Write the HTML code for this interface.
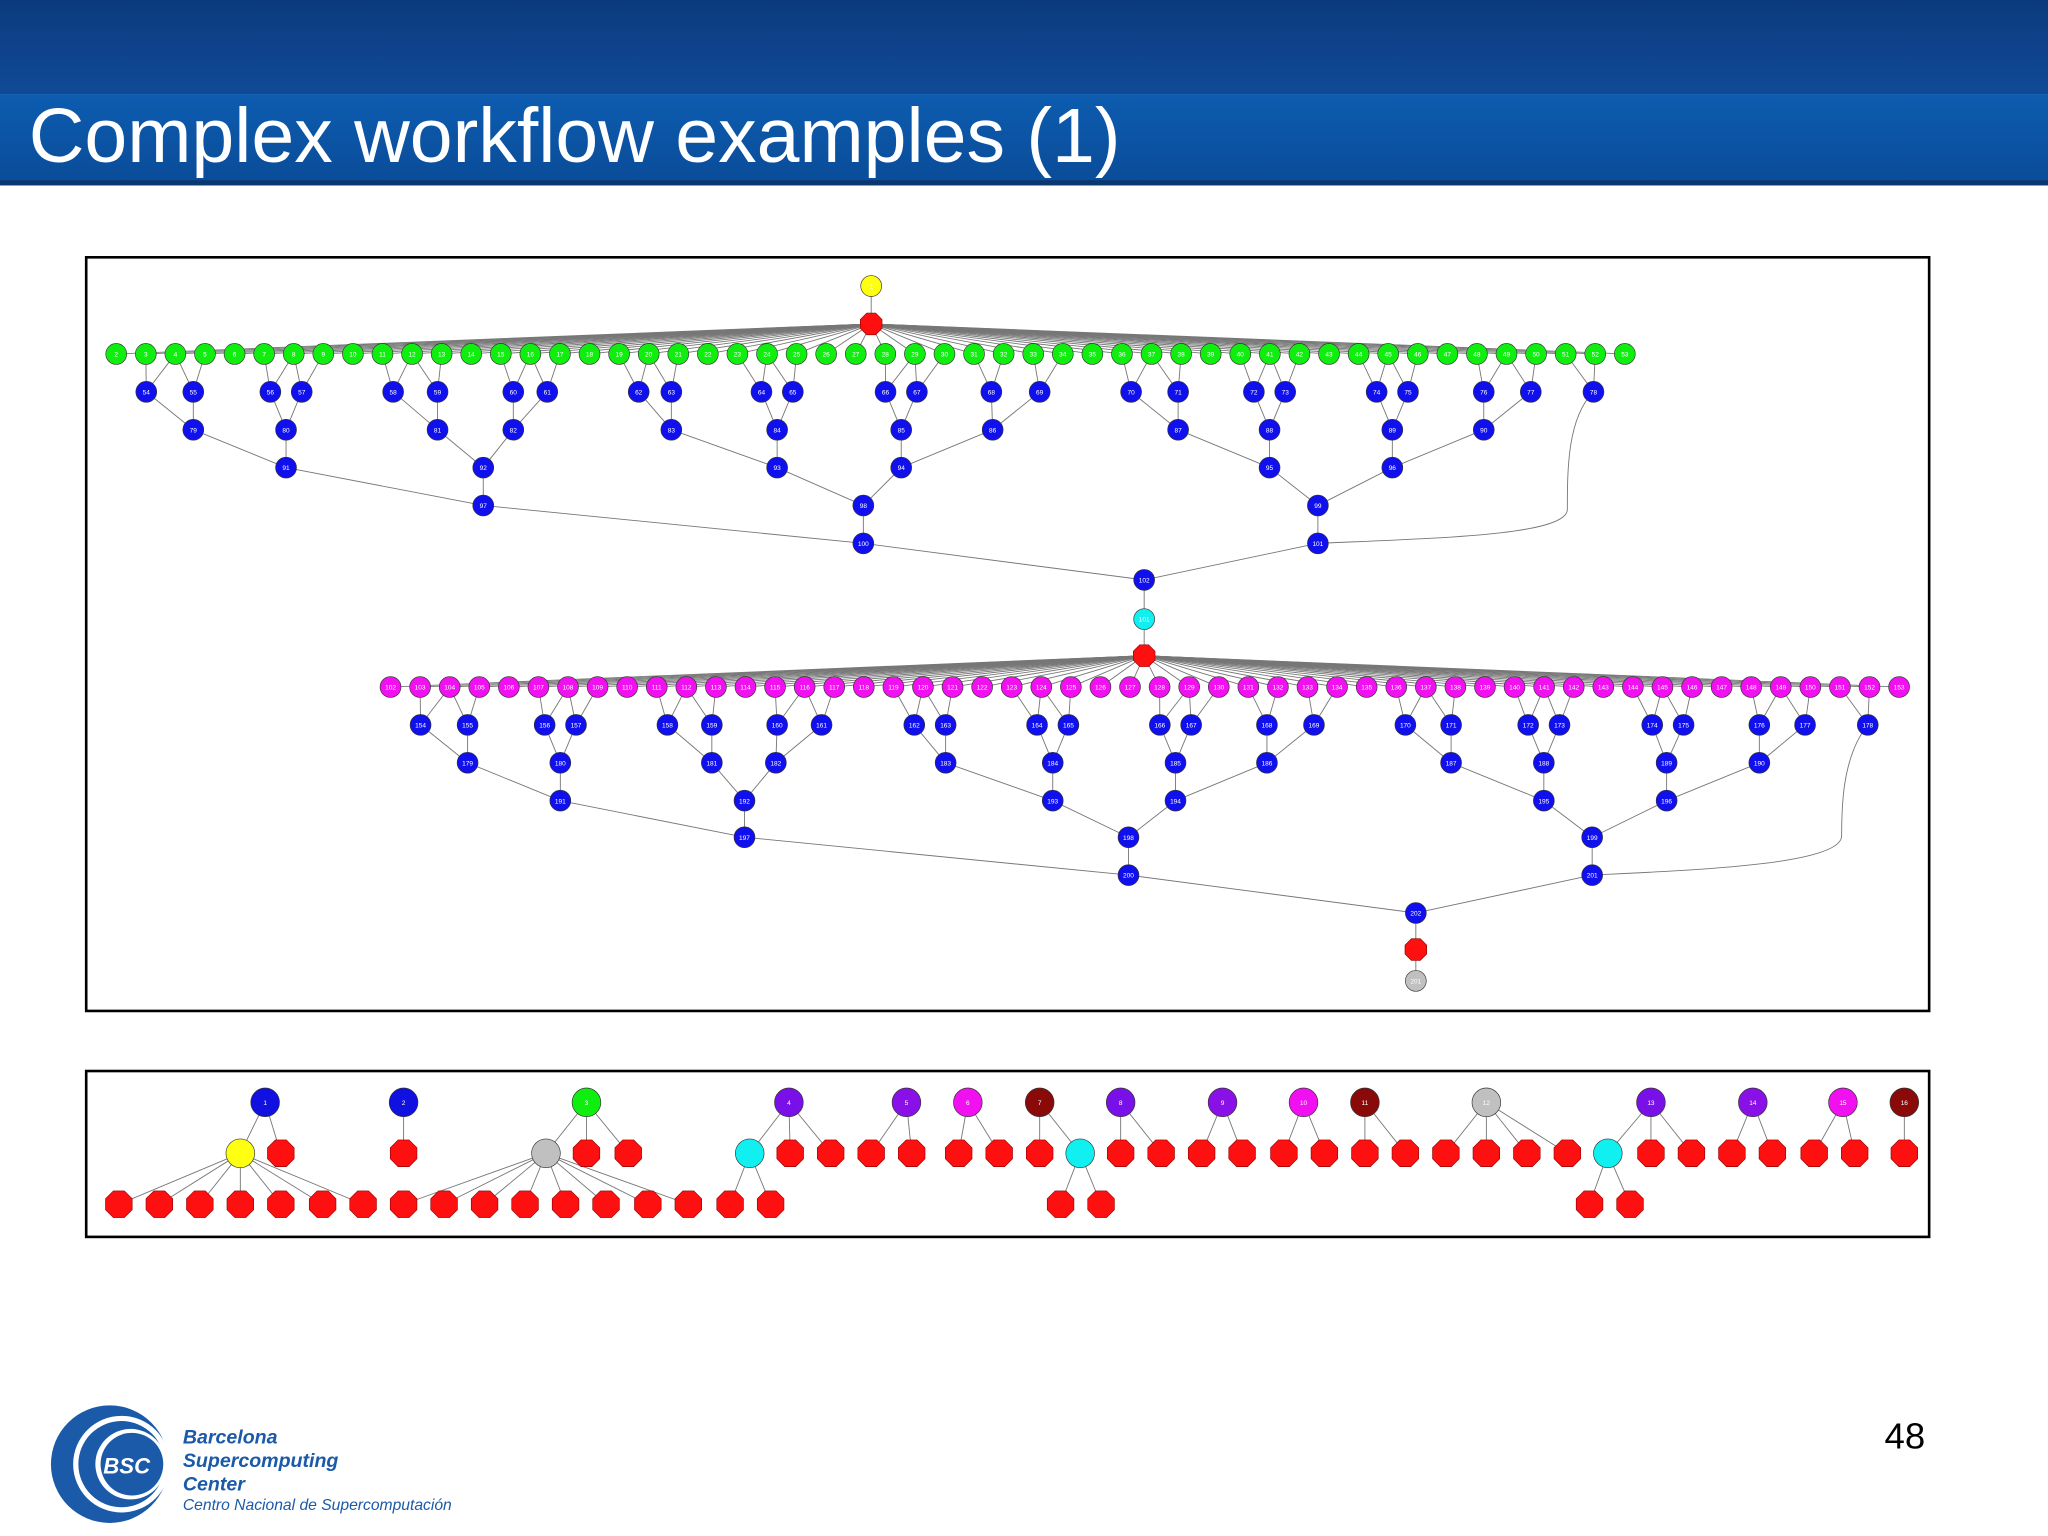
<!DOCTYPE html>
<html><head><meta charset="utf-8">
<style>
html,body{margin:0;padding:0;background:#fff;}
svg{display:block;font-family:"Liberation Sans",sans-serif;}
</style></head>
<body>
<svg id="s" width="2048" height="1536" viewBox="0 0 1568 1176" xmlns="http://www.w3.org/2000/svg">
<defs>
<linearGradient id="hb" x1="0" y1="0" x2="0" y2="1"><stop offset="0" stop-color="#0c3a7e"/><stop offset="1" stop-color="#104a96"/></linearGradient>
<linearGradient id="hb2" x1="0" y1="0" x2="0" y2="1"><stop offset="0" stop-color="#0d5cb0"/><stop offset="1" stop-color="#0a4c98"/></linearGradient>
</defs>
<rect x="0" y="0" width="1568" height="72" fill="url(#hb)"/>
<rect x="0" y="72" width="1568" height="68" fill="url(#hb2)"/>
<rect x="0" y="138" width="1568" height="4" fill="#0a3770"/>
<text x="22" y="124" font-size="59" fill="#fff">Complex workflow examples (1)</text>
<rect x="66" y="197" width="1411" height="577" fill="#fff" stroke="#000" stroke-width="2"/>
<rect x="66" y="820" width="1411" height="127" fill="#fff" stroke="#000" stroke-width="2"/>
<g id="edges"></g><g id="nodes"></g>
<g>
<circle cx="84" cy="1121" r="45" fill="#1a5aa8"/>
<circle cx="93" cy="1121" r="37" fill="#fff"/>
<circle cx="93" cy="1121" r="33" fill="#1a5aa8"/>
<circle cx="100" cy="1121" r="27" fill="#fff"/>
<circle cx="101" cy="1121" r="24" fill="#1a5aa8"/>
<text x="97" y="1128" font-size="17" font-weight="bold" font-style="italic" fill="#fff" text-anchor="middle">BSC</text>
</g>
<text font-size="15" font-weight="bold" font-style="italic" fill="#1a5aa8"><tspan x="140" y="1105">Barcelona</tspan><tspan x="140" y="1123">Supercomputing</tspan><tspan x="140" y="1141">Center</tspan></text>
<text x="140" y="1156" font-size="12" font-style="italic" fill="#1a5aa8">Centro Nacional de Supercomputación</text>
<text x="1474" y="1109" font-size="28" fill="#000" text-anchor="end">48</text>
</svg>
<script>
const NS="http://www.w3.org/2000/svg";
const E=document.getElementById('edges'),N=document.getElementById('nodes');
const GREEN_ROW_X0=89,GREEN_ROW_X1=1244,MAG_ROW_X0=299,MAG_ROW_X1=1454;
const topLevels=[
 [112,148,207,231,301,335,393,419,489,514,583,607,678,702,759,796,866,902,960,984,1054,1078,1136,1172,1220],
 [148,219,335,393,514,595,690,760,902,972,1066,1136],
 [219,370,595,690,972,1066],
 [370,661,1009],
 [661,1009],
 [876]];
const topY=[300,329,358,387,416,444];
const botLevels=[
 [322,358,417,441,511,545,595,629,700,724,794,818,888,912,970,1006,1076,1111,1170,1194,1265,1289,1347,1382,1430],
 [358,429,545,594,724,806,900,970,1111,1182,1276,1347],
 [429,570,806,900,1182,1276],
 [570,864,1219],
 [864,1219],
 [1084]];
const botY=[555,584,613,641,670,699];
const wfTop=[[203,'#1010e0'],[309,'#1010e0'],[449,'#10ee10'],[604,'#7a10e8'],[694,'#8a10e8'],[741,'#f010f0'],[796,'#8a0a0a'],[858,'#7a10e8'],[936,'#8a10e8'],[998,'#f010f0'],[1045,'#8a0a0a'],[1138,'#c0c0c0'],[1264,'#7a10e8'],[1342,'#8a10e8'],[1411,'#f010f0'],[1458,'#8a0a0a']];
const wfMid=[[184,'#ffff10'],[215,'r'],[309,'r'],[418,'#c0c0c0'],[449,'r'],[481,'r'],[574,'#10f0f0'],[605,'r'],[636,'r'],[667,'r'],[698,'r'],[734,'r'],[765,'r'],[796,'r'],[827,'#10f0f0'],[858,'r'],[889,'r'],[920,'r'],[951,'r'],[983,'r'],[1014,'r'],[1045,'r'],[1076,'r'],[1107,'r'],[1138,'r'],[1169,'r'],[1200,'r'],[1231,'#10f0f0'],[1264,'r'],[1295,'r'],[1326,'r'],[1357,'r'],[1389,'r'],[1420,'r'],[1458,'r']];
const wfLow=[[91,184],[122,184],[153,184],[184,184],[215,184],[247,184],[278,184],[309,418],[340,418],[371,418],[402,418],[433,418],[464,418],[496,418],[527,418],[559,574],[590,574],[812,827],[843,827],[1217,1231],[1248,1231]];

function line(x1,y1,x2,y2){const l=document.createElementNS(NS,'line');
l.setAttribute('x1',x1);l.setAttribute('y1',y1);l.setAttribute('x2',x2);l.setAttribute('y2',y2);
l.setAttribute('stroke','#777');l.setAttribute('stroke-width','0.7');


E.appendChild(l);}
function circ(x,y,r,fill,label){const c=document.createElementNS(NS,'circle');
c.setAttribute('cx',x);c.setAttribute('cy',y);c.setAttribute('r',r);c.setAttribute('fill',fill);c.setAttribute('stroke','#333');c.setAttribute('stroke-width','0.5');


N.appendChild(c);
if(label!==undefined){const t=document.createElementNS(NS,'text');t.setAttribute('x',x);t.setAttribute('y',y+2);t.setAttribute('font-size','5');t.setAttribute('text-anchor','middle');t.setAttribute('fill','#fff');t.textContent=label;


N.appendChild(t);}}
function oct(x,y,r){const p=document.createElementNS(NS,'polygon');let pts=[];
for(let i=0;i<8;i++){const a=Math.PI/8+i*Math.PI/4;pts.push((x+r*Math.cos(a)).toFixed(1)+','+(y+r*Math.sin(a)).toFixed(1));}
p.setAttribute('points',pts.join(' '));p.setAttribute('fill','#ff1010');p.setAttribute('stroke','#900');p.setAttribute('stroke-width','0.5');


N.appendChild(p);}
function nearest(arr,x,k){return arr.slice().sort((a,b)=>Math.abs(a-x)-Math.abs(b-x)).slice(0,k);}

function tree(rowX0,rowX1,rowY,octX,octY,levels,ys,color,startLabel){
 const row=[];for(let i=0;i<52;i++)row.push(rowX0+(rowX1-rowX0)*i/51);
 row.forEach(x=>line(x,rowY,octX,octY));
 let prev=row,prevY=rowY;
 levels.forEach((lv,li)=>{const th=li<3?140:300;lv.forEach(x=>{nearest(prev,x,2).forEach(px=>{if(Math.abs(px-x)<th)line(px,prevY,x,ys[li]);});});prev=lv;prevY=ys[li];});
 row.forEach((x,i)=>circ(x,rowY,8,color,startLabel+i));
 let lab=startLabel+52;
 levels.forEach((lv,li)=>lv.forEach(x=>circ(x,ys[li],8,'#1010ee',lab++)));
}
line(667,219,667,248);
circ(667,219,8,'#ffff10','1');
tree(GREEN_ROW_X0,GREEN_ROW_X1,271,667,248,topLevels,topY,'#10ee10',2);
oct(667,248,9);
(function(){const p=document.createElementNS(NS,'path');p.setAttribute('d','M1220,300 C1200,320 1200,360 1200,390 C1200,410 1100,412 1009,416');p.setAttribute('fill','none');p.setAttribute('stroke','#777');p.setAttribute('stroke-width','0.7');


E.appendChild(p);})();
line(876,444,876,474);line(876,474,876,502);
circ(876,474,8,'#10f0f0','101');
tree(MAG_ROW_X0,MAG_ROW_X1,526,876,502,botLevels,botY,'#f010f0',102);
oct(876,502,9);
(function(){const p=document.createElementNS(NS,'path');p.setAttribute('d','M1430,555 C1410,580 1410,620 1410,640 C1410,662 1300,666 1219,670');p.setAttribute('fill','none');p.setAttribute('stroke','#777');p.setAttribute('stroke-width','0.7');


E.appendChild(p);})();
line(1084,699,1084,727);line(1084,727,1084,751);
oct(1084,727,9);circ(1084,751,8,'#c0c0c0','201');
const topXs=wfTop.map(d=>d[0]);
wfMid.forEach(d=>{const p=nearest(topXs,d[0],1)[0];line(p,844,d[0],883);});
wfLow.forEach(d=>line(d[1],883,d[0],922));
wfTop.forEach((d,i)=>circ(d[0],844,11,d[1],String(i+1)));
wfMid.forEach(d=>{if(d[1]==='r')oct(d[0],883,11);else circ(d[0],883,11,d[1]);});
wfLow.forEach(d=>oct(d[0],922,11));
</script>
</body></html>
